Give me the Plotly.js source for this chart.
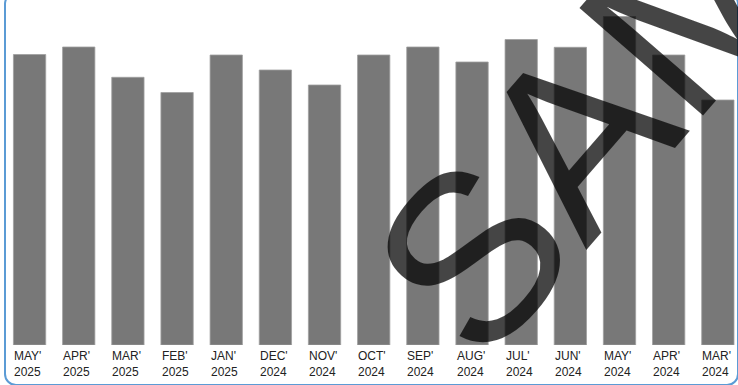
<!DOCTYPE html>
<html>
<head>
<meta charset="utf-8">
<script src="https://cdn.plot.ly/plotly-3.0.1.min.js"></script>
<style>
  html, body { margin: 0; padding: 0; background: #ffffff; overflow: hidden; }
  #frame { position: absolute; left: 4px; top: -8px; width: 735px; height: 394px;
           box-sizing: border-box; border: 2.5px solid #5b9bd5; border-radius: 12px; }
  #chart { position: absolute; left: 0; top: 0; width: 738px; height: 385px; }
</style>
</head>
<body>
<div id="frame"></div>
<div id="chart"></div>
<script>
// Data
const months = ["MAY'", "APR'", "MAR'", "FEB'", "JAN'", "DEC'", "NOV'", "OCT'", "SEP'", "AUG'", "JUL'", "JUN'", "MAY'", "APR'", "MAR'"];
const years  = ["2025", "2025", "2025", "2025", "2025", "2024", "2024", "2024", "2024", "2024", "2024", "2024", "2024", "2024", "2024"];
const values = [290.5, 298, 267.7, 252.5, 290, 275, 260, 290, 298, 283, 305.5, 297.7, 328.5, 290, 245];
const watermarkText = "SAMPLE";

const categories = months.map((m, i) => m + " " + years[i]);
const FONT = 'Liberation Sans';

const trace = {
  type: 'bar',
  x: categories,
  y: values,
  marker: { color: '#787878', line: { color: '#a0a0a0', width: 0.8 } },
  hoverinfo: 'skip'
};

const labelAnnotations = categories.map((c, i) => ({
  x: c, y: 0, xref: 'x', yref: 'y',
  text: months[i] + '<br>' + years[i],
  showarrow: false,
  xanchor: 'left', yanchor: 'top', align: 'left',
  xshift: -17.5, yshift: -2,
  font: { family: FONT, size: 12, color: '#222222' }
}));

const watermark = {
  xref: 'paper', yref: 'paper', x: 0.998, y: 1.156,
  text: watermarkText, showarrow: false,
  xanchor: 'center', yanchor: 'middle',
  textangle: -49,
  font: { family: FONT, size: 238, color: 'rgba(0,0,0,0.73)' }
};

const layout = {
  width: 738, height: 385,
  margin: { l: 5, r: 0, t: 5, b: 40 },
  paper_bgcolor: 'rgba(0,0,0,0)',
  plot_bgcolor: 'rgba(0,0,0,0)',
  bargap: 0.343,
  showlegend: false,
  font: { family: FONT },
  xaxis: { type: 'category', range: [-0.5, 14.41], showticklabels: false, showgrid: false, zeroline: false, showline: false, ticks: '' },
  yaxis: { range: [0, 340], visible: false, showgrid: false, zeroline: false },
  annotations: labelAnnotations.concat([watermark])
};

Plotly.newPlot('chart', [trace], layout, { displayModeBar: false, staticPlot: true });
</script>
</body>
</html>
